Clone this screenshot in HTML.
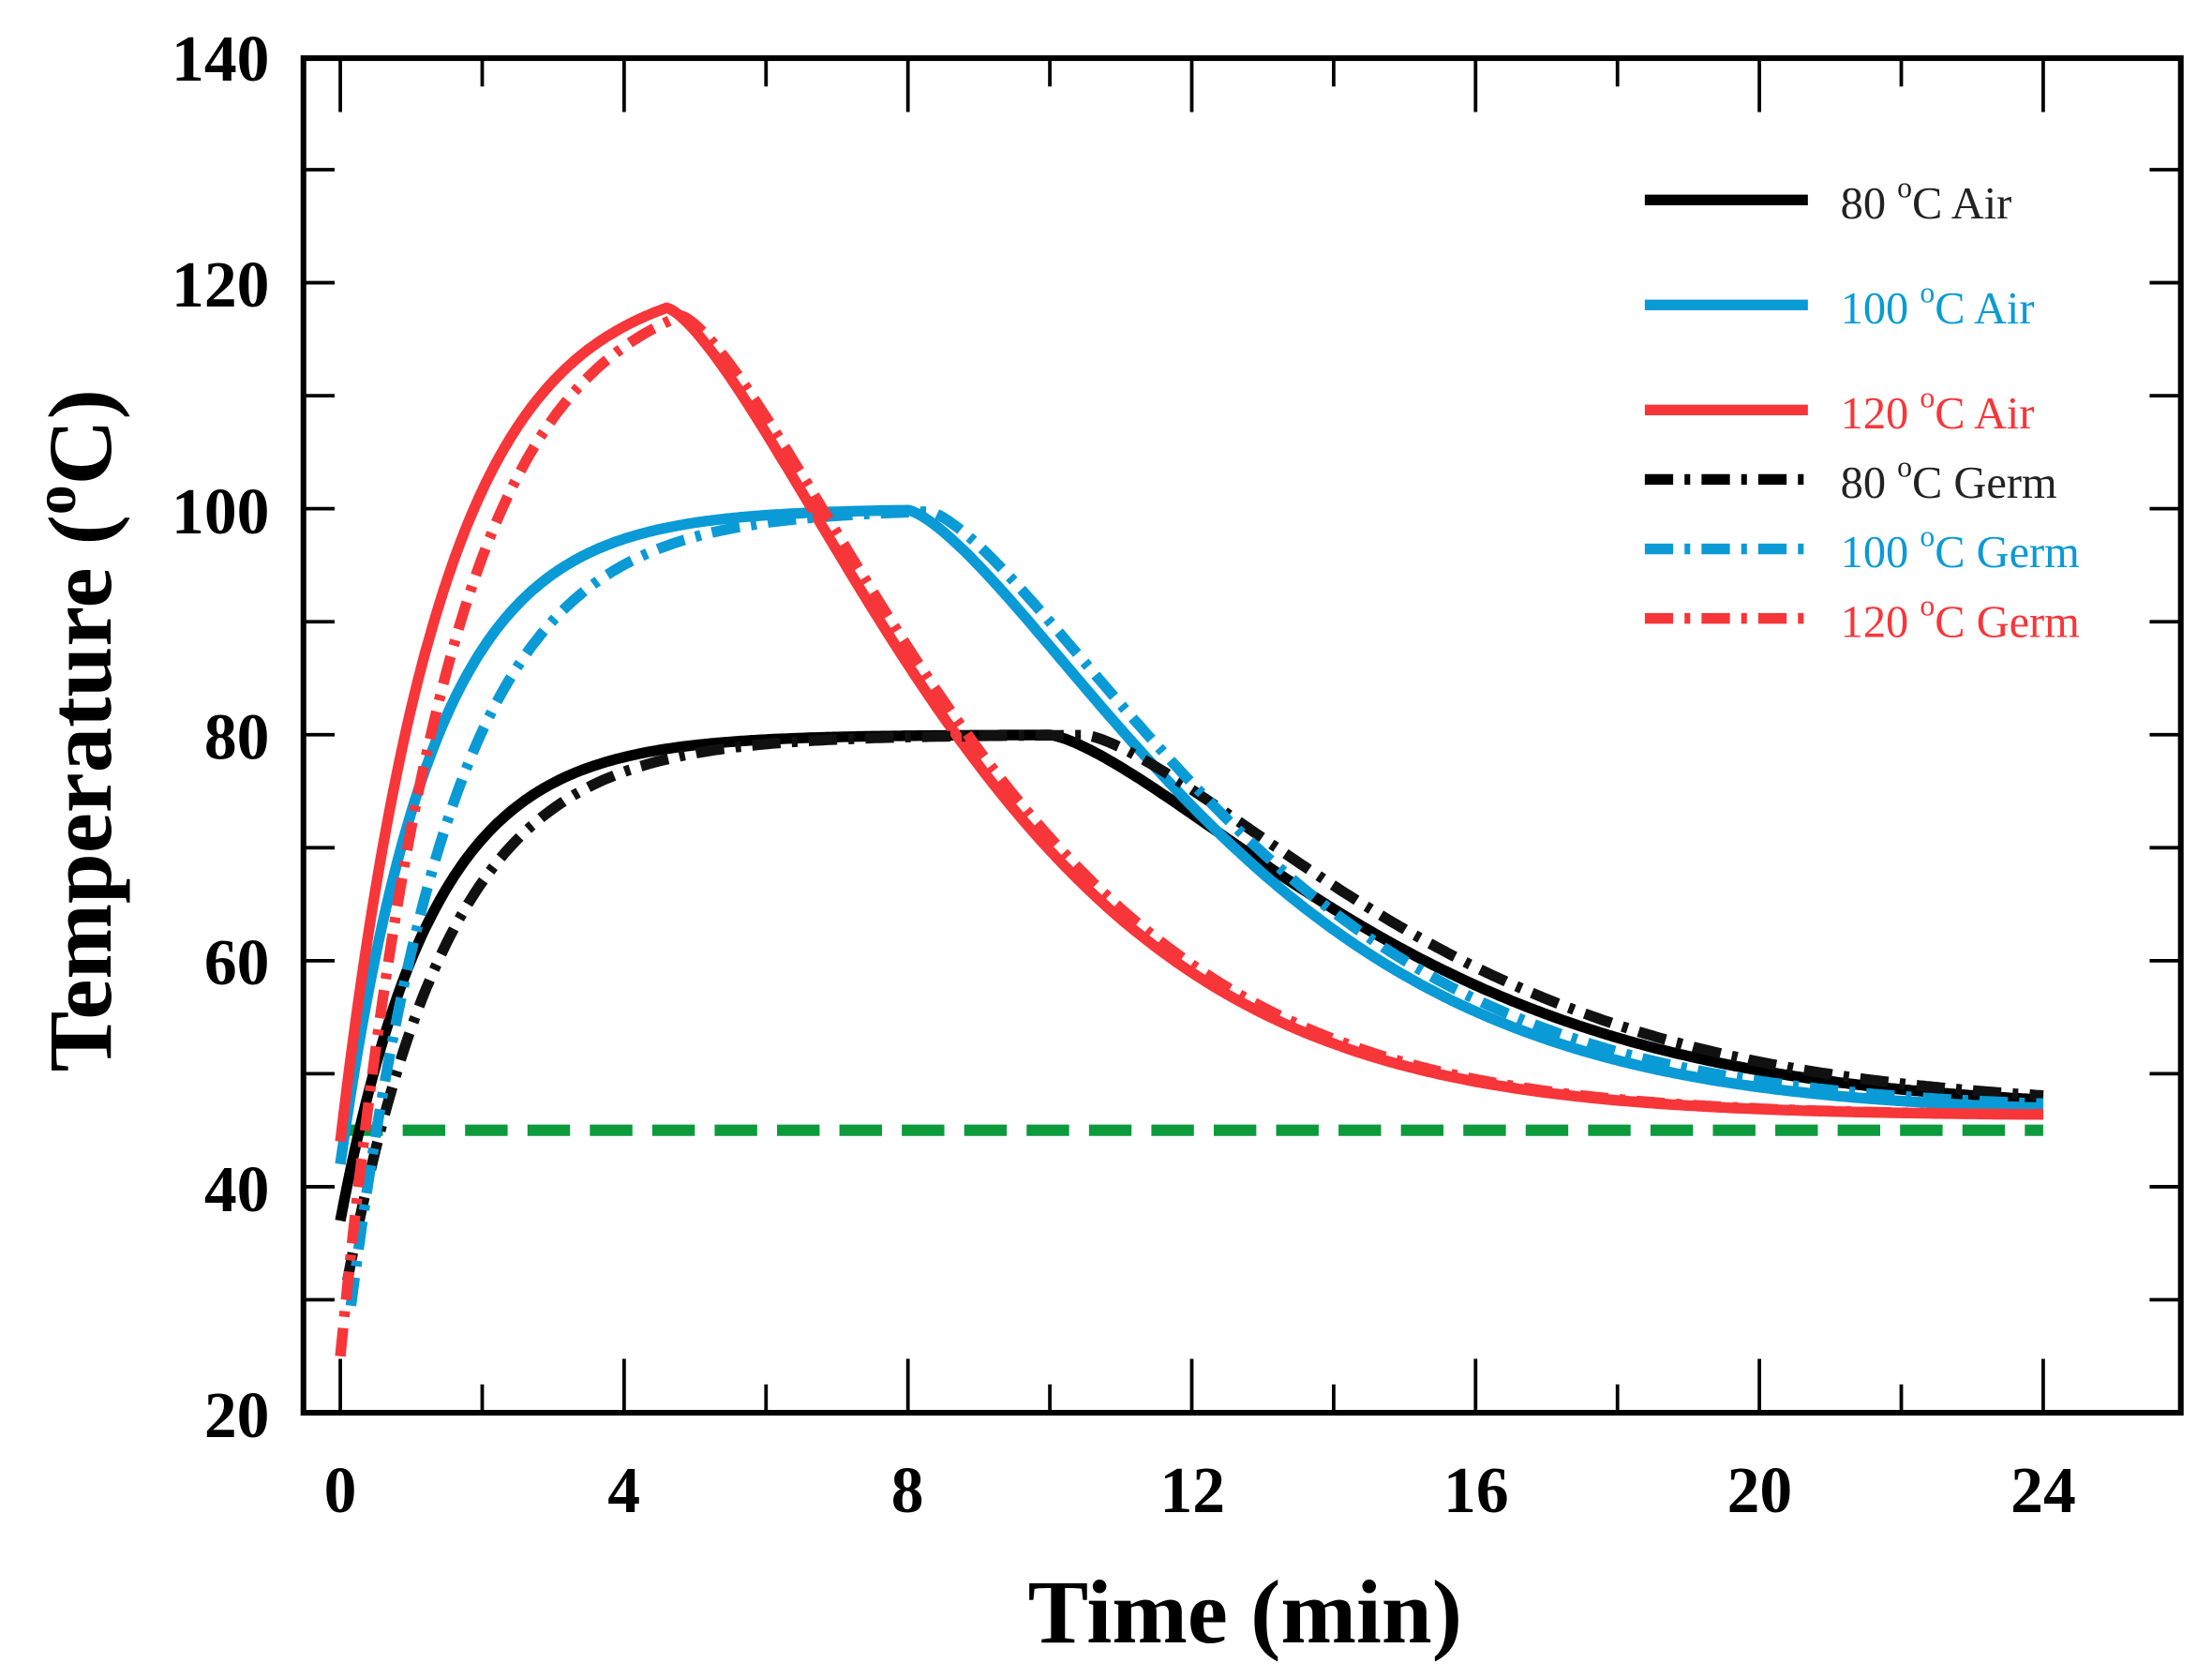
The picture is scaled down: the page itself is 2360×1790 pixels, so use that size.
<!DOCTYPE html>
<html><head><meta charset="utf-8"><style>
html,body{margin:0;padding:0;background:#fff;}
svg{display:block;}
text{font-family:"Liberation Serif",serif;}
</style></head><body>
<svg id="s" width="2360" height="1790" viewBox="0 0 1560 1183" preserveAspectRatio="none" xmlns="http://www.w3.org/2000/svg">
<rect x="0" y="0" width="1560" height="1183" fill="#fff"/>
<g id="curves"></g>
<rect x="214" y="41" width="1324" height="955" fill="none" stroke="#000" stroke-width="4"/>
<g id="ticks" stroke="#000" stroke-width="2.5"></g>
<g font-weight="bold" font-size="46" text-anchor="end">
<text x="190" y="1013">20</text><text x="190" y="854">40</text><text x="190" y="694">60</text>
<text x="190" y="535">80</text><text x="190" y="376">100</text><text x="190" y="216">120</text><text x="190" y="57">140</text>
</g>
<g font-weight="bold" font-size="46" text-anchor="middle">
<text x="240" y="1066">0</text><text x="440" y="1066">4</text><text x="640" y="1066">8</text>
<text x="841" y="1066">12</text><text x="1041" y="1066">16</text><text x="1241" y="1066">20</text><text x="1441" y="1066">24</text>
</g>
<text x="878" y="1158" font-weight="bold" font-size="64" text-anchor="middle">Time (min)</text>
<text transform="translate(78,515) rotate(-90)" font-weight="bold" font-size="64" text-anchor="middle">Temperature (<tspan font-size="42" dy="-25">o</tspan><tspan dy="25">C)</tspan></text>
<g id="legend" font-size="32"></g>
</svg>
<script>
var X=function(t){return 240+50.04*t;}, Y=function(T){return 996-7.967*(T-20);};
var ticks=document.getElementById('ticks');
var h='';
for(var t=0;t<=24;t+=2){var x=X(t),L=(t%4==0)?38:20;h+='<line x1="'+x+'" y1="996" x2="'+x+'" y2="'+(996-L)+'"/><line x1="'+x+'" y1="41" x2="'+x+'" y2="'+(41+L)+'"/>';}
for(var T=30;T<140;T+=10){var y=Y(T);h+='<line x1="214" y1="'+y+'" x2="236" y2="'+y+'"/><line x1="1538" y1="'+y+'" x2="1516" y2="'+y+'"/>';}
ticks.innerHTML=h;
function mk(t0,T0,Tmax,tau,tp,p,tauD,Tend){
 return function(t){
  if(t<=tp) return Tmax-(Tmax-T0)*Math.exp(-(t-t0)/tau);
  var Tp=Tmax-(Tmax-T0)*Math.exp(-(tp-t0)/tau);
  var s=t-tp; return Tend+(Tp-Tend)*Math.exp(-Math.pow(s/tauD,p));
 };
}
var series=[
 {f:mk(0,37,80,1.3,10,1.4,5.6,46.8),t0:0,c:'#000',d:null},
 {f:mk(0,42,100,1.3,8,1.4,5.3,46.5),t0:0,c:'#0a9ad6',d:null},
 {f:mk(0,44,121,1.45,4.6,1.4,5.0,46.3),t0:0,c:'#f7363a',d:null},
 {f:mk(0.05,30,80,1.45,10.5,1.4,5.6,47),t0:0.1,c:'#111',d:'20 8 4 8'},
 {f:mk(0.1,27,100,1.45,8.3,1.4,5.3,46.8),t0:0.15,c:'#0a9ad6',d:'20 8 4 8'},
 {f:mk(0,25,121,1.5,4.8,1.4,5.0,46.3),t0:0,c:'#f7363a',d:'20 8 4 8'}
];
var g='<line x1="'+X(0)+'" y1="'+Y(45)+'" x2="'+X(24)+'" y2="'+Y(45)+'" stroke="#0c9a3c" stroke-width="8" stroke-dasharray="30 14"/>';
series.forEach(function(s){
 var pts=[];for(var t=s.t0;t<=24.001;t+=0.05){pts.push(X(t).toFixed(1)+','+Y(s.f(t)).toFixed(1));}
 g+='<polyline fill="none" stroke="'+s.c+'" stroke-width="7.5" stroke-linejoin="round" '+(s.d?'stroke-dasharray="'+s.d+'" ':'')+'points="'+pts.join(' ')+'"/>';
});
document.getElementById('curves').innerHTML=g;
var leg=[['80','Air','#000',null,141],['100','Air','#0a9ad6',null,215],['120','Air','#f7363a',null,289],['80','Germ','#000','20 8 4 8',338],['100','Germ','#0a9ad6','20 8 4 8',387],['120','Germ','#f7363a','20 8 4 8',436]];
var lh='';
leg.forEach(function(l){
 var tc=l[2]=='#000'?'#222':l[2];
 lh+='<line x1="1160" y1="'+l[4]+'" x2="1275" y2="'+l[4]+'" stroke="'+l[2]+'" stroke-width="7.5" '+(l[3]?'stroke-dasharray="'+l[3]+'"':'')+'/>';
 lh+='<text x="1298" y="'+(l[4]+13)+'" fill="'+tc+'">'+l[0]+' <tspan font-size="21" dy="-15">o</tspan><tspan dy="15">C '+l[1]+'</tspan></text>';
});
document.getElementById('legend').innerHTML=lh;
</script>
</body></html>
